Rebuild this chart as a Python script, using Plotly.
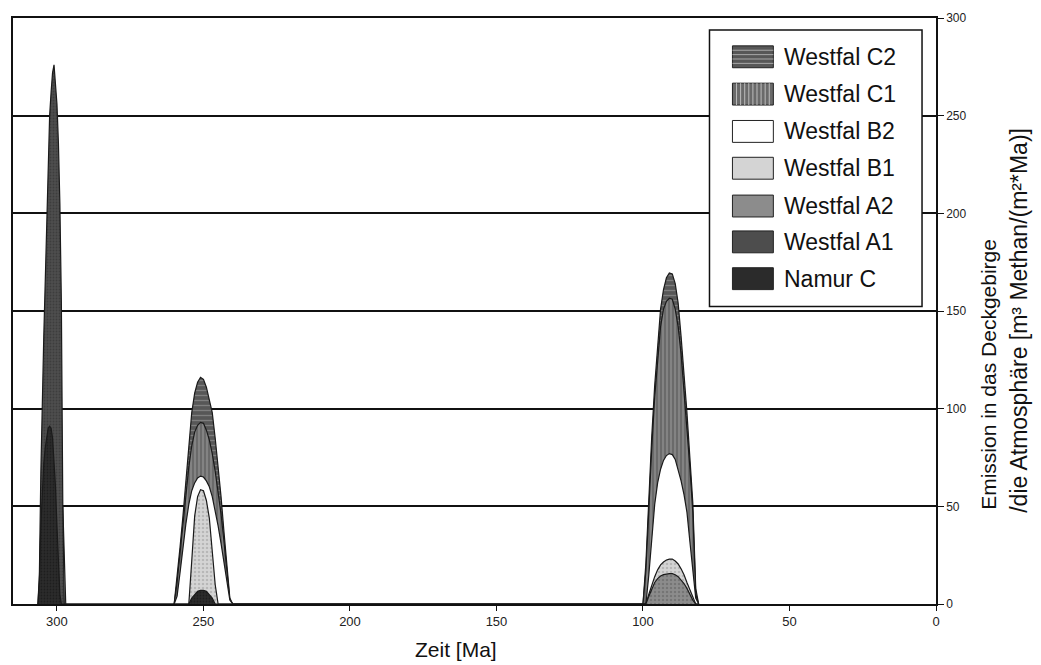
import plotly.graph_objects as go

# Time grids of the three emission episodes (Ma before present)
zeit_1 = [306.5, 306, 305.5, 305, 304.5, 304, 303.5, 303, 302.5, 302,
          301.5, 301, 300.5, 300, 299.5, 299, 298.5, 298, 297.5, 297]
zeit_2 = [260, 259, 258, 257, 256, 255, 254, 253, 252, 251, 250,
          249, 248, 247, 246, 245, 244, 243, 242, 241, 240]
zeit_3 = [100, 99, 98, 97, 96, 95, 94, 93, 92, 91,
          90, 89, 88, 87, 86, 85, 84, 83, 82, 81]

# Emission rates [m3 methane / (m2*Ma)] per stratigraphic unit and episode
westfal_c2_2 = [0, 13, 29, 45, 62, 80, 98, 108, 113.5, 116, 115,
                111, 105, 98, 85, 71, 55, 37, 19, 3, 0]
westfal_c2_3 = [0, 21, 55, 86, 112, 132, 151, 161, 167, 169.5,
                169, 164, 154, 137, 118, 98, 75, 52, 8, 0]

westfal_c1_2 = [0, 11, 26, 41, 56, 70, 81, 88, 91.5, 93, 92.5,
                89, 84, 77, 68, 58, 46, 32, 16, 2, 0]
westfal_c1_3 = [0, 17, 50, 80, 106, 126, 142, 151, 155, 156.5,
                156, 151, 142, 128, 110, 92, 70, 47, 5, 0]

westfal_b2_2 = [0, 4, 16, 29, 41, 51, 58, 62, 64.5, 65.5, 65,
                63, 60, 55, 48, 40, 31, 22, 12, 2, 0]
westfal_b2_3 = [0, 0, 15, 34, 51, 62, 69, 73.5, 76, 77,
                76.5, 74, 69, 63, 56, 47, 32, 19, 3, 0]

westfal_b1_1 = [0, 0, 0, 0, 0, 0, 0, 0, 0, 0,
                0, 0, 0, 0, 0, 25, 45, 50, 30, 0]
westfal_b1_2 = [0, 0, 0, 0, 0, 0, 22, 45, 55, 58.5, 58,
                53, 44, 28, 10, 0, 0, 0, 0, 0, 0]
westfal_b1_3 = [0, 0, 5, 10, 14, 17.5, 20, 21.5, 22.5, 23,
                23, 22, 20.5, 18, 15, 11, 7, 3, 0, 0]

westfal_a2_3 = [0, 0, 4, 8, 11, 13, 14.3, 15, 15.3, 15.5,
                15.5, 15, 14, 12.5, 10.5, 8, 5, 2, 0, 0]

westfal_a1_1 = [0, 15, 67, 108, 137, 165, 195, 222, 250, 262,
                272, 276, 268, 256, 236, 205, 155, 50, 0, 0]

namur_c_1 = [0, 12, 40, 60, 72, 80, 86, 90, 91, 90,
             85, 75, 60, 40, 20, 5, 0, 0, 0, 0]
namur_c_2 = [0, 0, 0, 0, 0, 0, 3, 5, 6.5, 7, 7,
             6.5, 5, 3, 0, 0, 0, 0, 0, 0, 0]

serien = ["Westfal C2", "Westfal C1", "Westfal B2", "Westfal B1",
          "Westfal A2", "Westfal A1", "Namur C"]

daten = {
    "Westfal C2": (zeit_2 + zeit_3, westfal_c2_2 + westfal_c2_3),
    "Westfal C1": (zeit_2 + zeit_3, westfal_c1_2 + westfal_c1_3),
    "Westfal B2": (zeit_2 + zeit_3, westfal_b2_2 + westfal_b2_3),
    "Westfal B1": (zeit_1 + zeit_2 + zeit_3, westfal_b1_1 + westfal_b1_2 + westfal_b1_3),
    "Westfal A2": (zeit_3, westfal_a2_3),
    "Westfal A1": (zeit_1, westfal_a1_1),
    "Namur C": (zeit_1 + zeit_2, namur_c_1 + namur_c_2),
}

# Grey-scale fills with hatching, as in the printed figure
stil = {
    "Westfal C2": dict(shape="-", bgcolor="#575757", fgcolor="#a8a8a8", size=5, solidity=0.25),
    "Westfal C1": dict(shape="|", bgcolor="#6a6a6a", fgcolor="#bdbdbd", size=4, solidity=0.3),
    "Westfal B2": dict(shape="", bgcolor="#ffffff", fgcolor="#ffffff"),
    "Westfal B1": dict(shape=".", bgcolor="#d4d4d4", fgcolor="#9a9a9a", size=4, solidity=0.3),
    "Westfal A2": dict(shape=".", bgcolor="#8c8c8c", fgcolor="#5e5e5e", size=4, solidity=0.3),
    "Westfal A1": dict(shape=".", bgcolor="#4d4d4d", fgcolor="#2e2e2e", size=3, solidity=0.3),
    "Namur C": dict(shape=".", bgcolor="#2b2b2b", fgcolor="#111111", size=3, solidity=0.3),
}

fig = go.Figure()
for name in serien:
    x, y = daten[name]
    p = stil[name]
    fig.add_trace(go.Scatter(
        x=x, y=y, name=name, mode="lines",
        line=dict(color="#1a1a1a", width=1.2),
        fill="tozeroy", fillcolor=p["bgcolor"],
        fillpattern=p if p["shape"] else None,
        showlegend=False, hoverinfo="x+y+name",
    ))

FONT = "Liberation Sans, Arial, sans-serif"
L, R, T, B = 11, 105, 15, 61
W, H = 1041, 665
pw, ph = W - L - R, H - T - B


def px_x(px):
    return (px - L) / pw


def px_y(py):
    return (H - B - py) / ph


shapes = []
annotations = []

# Legend box
shapes.append(dict(type="rect", xref="paper", yref="paper",
                   x0=px_x(709), x1=px_x(922), y0=px_y(305), y1=px_y(27),
                   line=dict(color="#111", width=1.5), fillcolor="white", layer="above"))
row_y = [54, 91.5, 129, 166, 204, 240, 277]
for name, cy in zip(serien, row_y):
    p = stil[name]
    x0, x1 = px_x(732), px_x(773)
    y0, y1 = px_y(cy + 11), px_y(cy - 11)
    shapes.append(dict(type="rect", xref="paper", yref="paper", x0=x0, x1=x1, y0=y0, y1=y1,
                       line=dict(color="#222", width=1), fillcolor=p["bgcolor"], layer="above"))
    if p["shape"] == "-":
        for k in range(1, 5):
            yy = px_y(cy - 11 + k * 4.4)
            shapes.append(dict(type="line", xref="paper", yref="paper", x0=x0, x1=x1, y0=yy, y1=yy,
                               line=dict(color=p["fgcolor"], width=1), layer="above"))
    elif p["shape"] == "|":
        for k in range(1, 10):
            xx = px_x(732 + k * 4.1)
            shapes.append(dict(type="line", xref="paper", yref="paper", x0=xx, x1=xx, y0=y0, y1=y1,
                               line=dict(color=p["fgcolor"], width=1), layer="above"))
    annotations.append(dict(x=px_x(782), y=px_y(cy), xref="paper", yref="paper",
                            text=name, showarrow=False, xanchor="left", yanchor="middle",
                            font=dict(family=FONT, size=23, color="#111")))

# Axis titles
annotations.append(dict(x=px_x(455), y=px_y(650), xref="paper", yref="paper",
                        text="Zeit [Ma]", showarrow=False, xanchor="center", yanchor="middle",
                        font=dict(family=FONT, size=21, color="#111")))
annotations.append(dict(x=px_x(989), y=px_y(511), xref="paper", yref="paper",
                        text="Emission in das Deckgebirge", textangle=-90, showarrow=False,
                        xanchor="center", yanchor="bottom",
                        font=dict(family=FONT, size=21, color="#111")))
annotations.append(dict(x=px_x(1019), y=px_y(514), xref="paper", yref="paper",
                        text="/die Atmosphäre [m³ Methan/(m²*Ma)]",
                        textangle=-90, showarrow=False, xanchor="center", yanchor="bottom",
                        font=dict(family=FONT, size=23, color="#111")))

fig.update_layout(
    width=W, height=H,
    margin=dict(l=L, r=R, t=T, b=B),
    paper_bgcolor="white", plot_bgcolor="white",
    showlegend=False,
    xaxis=dict(range=[315, 0], tickvals=[300, 250, 200, 150, 100, 50, 0],
               ticks="outside", ticklen=5, tickcolor="#111", tickwidth=1.2,
               showgrid=False, zeroline=False,
               showline=True, mirror=True, linecolor="#111", linewidth=1.5,
               tickfont=dict(family=FONT, size=13, color="#222")),
    yaxis=dict(range=[0, 300], dtick=50, side="right",
               ticks="outside", ticklen=6, tickcolor="#111", tickwidth=1.2,
               showgrid=True, gridcolor="#111", gridwidth=1.5, zeroline=False,
               showline=True, mirror=True, linecolor="#111", linewidth=1.5,
               tickfont=dict(family=FONT, size=12, color="#222")),
    shapes=shapes,
    annotations=annotations,
)

fig.write_html("out.html")
